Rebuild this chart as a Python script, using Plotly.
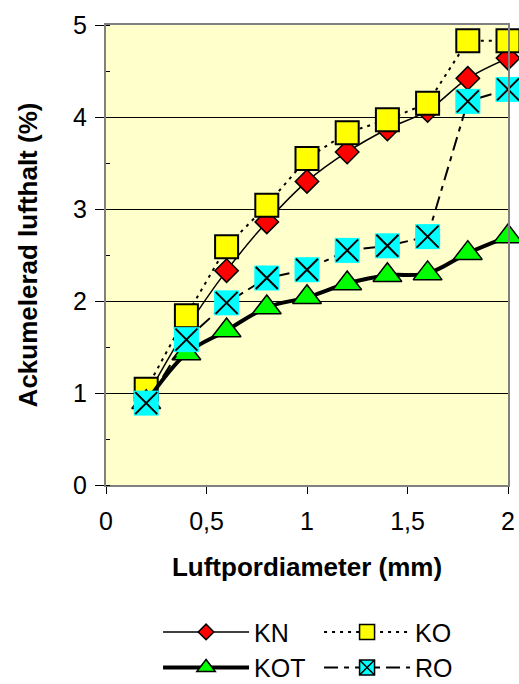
import plotly.graph_objects as go

x = [0.2, 0.4, 0.6, 0.8, 1.0, 1.2, 1.4, 1.6, 1.8, 2.0]
kn = [0.95, 1.70, 2.33, 2.86, 3.30, 3.62, 3.87, 4.07, 4.42, 4.64]
ko = [1.04, 1.84, 2.59, 3.04, 3.55, 3.83, 3.97, 4.15, 4.83, 4.83]
kot = [0.90, 1.43, 1.68, 1.93, 2.04, 2.19, 2.28, 2.30, 2.52, 2.70]
ro = [0.89, 1.58, 1.98, 2.25, 2.34, 2.55, 2.60, 2.70, 4.17, 4.30]

series_names = ["KN", "KO", "KOT", "RO"]
x_tickvals = [0, 0.5, 1, 1.5, 2]
x_ticktext = ["0", "0,5", "1", "1,5", "2"]
y_tickvals = [0, 1, 2, 3, 4, 5]

FONT = "Liberation Sans, Arial, sans-serif"
KO_DASH = "3px,5px"
RO_DASH = "14px,6px,5px,6px"

fig = go.Figure()

# plotted series (legend drawn by separate entries below)
fig.add_trace(go.Scatter(
    x=x, y=kn, name="KN", mode="lines+markers", line_shape="spline", showlegend=False,
    line=dict(color="black", width=1.5),
    marker=dict(symbol="diamond", size=18, color="#FF0000", line=dict(color="black", width=1.5)),
    cliponaxis=False))
fig.add_trace(go.Scatter(
    x=x, y=ko, name="KO", mode="lines+markers", showlegend=False,
    line=dict(color="black", width=2, dash=KO_DASH),
    marker=dict(symbol="square", size=23, color="#FFFF00", line=dict(color="black", width=2)),
    cliponaxis=False))
fig.add_trace(go.Scatter(
    x=x, y=kot, name="KOT", mode="lines+markers", line_shape="spline", showlegend=False,
    line=dict(color="black", width=4),
    marker=dict(symbol="triangle-up", size=25, color="#00FF00", line=dict(color="black", width=1.5)),
    cliponaxis=False))
fig.add_trace(go.Scatter(
    x=x, y=ro, name="RO", mode="lines+markers", showlegend=False,
    line=dict(color="black", width=2, dash=RO_DASH),
    marker=dict(symbol="square", size=25, color="#00FFFF", line=dict(width=0)),
    cliponaxis=False))
fig.add_trace(go.Scatter(
    x=x, y=ro, name="RO", mode="markers", showlegend=False,
    marker=dict(symbol="x-thin", size=22, color="black", line=dict(color="black", width=2)),
    cliponaxis=False, hoverinfo="skip"))

# legend entries
legend_styles = [
    (dict(color="black", width=1.5), dict(symbol="diamond", size=12, color="#FF0000", line=dict(color="black", width=1.5))),
    (dict(color="black", width=2, dash=KO_DASH), dict(symbol="square", size=15, color="#FFFF00", line=dict(color="black", width=1.5))),
    (dict(color="black", width=4), dict(symbol="triangle-up", size=17, color="#00FF00", line=dict(color="black", width=1.5))),
    (dict(color="black", width=2, dash=RO_DASH), dict(symbol="square-x", size=15, color="#00FFFF", line=dict(color="black", width=1.5))),
]
for name, (ln, mk) in zip(series_names, legend_styles):
    fig.add_trace(go.Scatter(x=[None], y=[None], name=name, mode="lines+markers",
                             line=ln, marker=mk))

fig.update_layout(
    width=519, height=684,
    margin=dict(l=106, r=11, t=25, b=199, autoexpand=False),
    paper_bgcolor="white",
    plot_bgcolor="#FFFFCC",
    font=dict(family=FONT, size=25, color="black"),
    showlegend=True,
    legend=dict(orientation="h", x=0.53, xanchor="center", y=-0.27, yanchor="top",
                entrywidth=60, font=dict(size=25), traceorder="normal",
                itemwidth=86, tracegroupgap=0,
                bgcolor="rgba(0,0,0,0)"),
    xaxis=dict(range=[0, 2], tickvals=x_tickvals, ticktext=x_ticktext,
               showgrid=False, zeroline=False, showline=True, linecolor="#808080",
               linewidth=2, mirror=True, ticks="outside", ticklen=7, tickcolor="black",
               ticklabelstandoff=6,
               tickfont=dict(size=25, family=FONT),
               title=dict(text="<b>Luftpordiameter (mm)</b>", font=dict(size=26, family=FONT), standoff=24)),
    yaxis=dict(range=[0, 5], tickvals=y_tickvals, showgrid=True, gridcolor="black", gridwidth=1,
               zeroline=False, showline=True, linecolor="#808080", linewidth=2, mirror=True,
               ticks="outside", ticklen=9, tickcolor="black",
               ticklabelstandoff=3,
               minor=dict(dtick=0.5, ticks="inside", ticklen=4, tickcolor="black", showgrid=False),
               tickfont=dict(size=25, family=FONT),
               title=dict(text="<b>Ackumelerad lufthalt (%)</b>", font=dict(size=26, family=FONT), standoff=28)),
)

fig.write_html("out.html", config={"displayModeBar": False},
               post_script="document.body.style.margin='0';document.body.style.overflow='hidden';")
